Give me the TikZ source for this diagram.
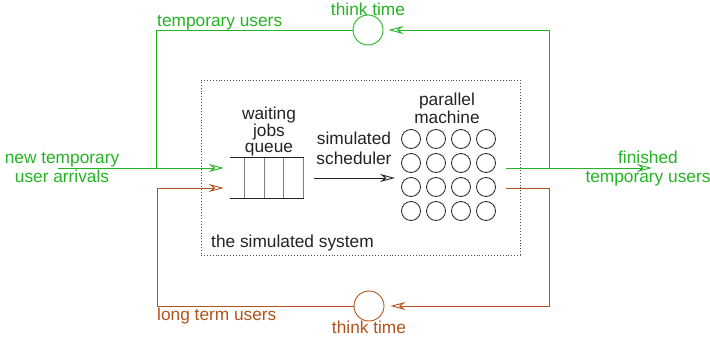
\documentclass[tikz,border=0pt]{standalone}
\usepackage{fontspec}
\setmainfont{Liberation Sans}
\usetikzlibrary{arrows.meta}
\definecolor{tempgreen}{RGB}{34,180,34}
\definecolor{longbrown}{RGB}{178,82,28}
\definecolor{ink}{RGB}{35,35,35}
\begin{document}
\begin{tikzpicture}[x=1pt,y=-1pt,
  every node/.style={font=\fontsize{17.3}{19}\selectfont, inner sep=0pt, text=ink},
  flow/.style={line width=0.9pt},
  head/.style={-{Stealth[open,length=15pt,width=8pt,inset=5pt]}},
  thinker/.style={circle, draw, minimum size=30pt, line width=0.9pt},
  cpu/.style={circle, draw=ink, minimum size=19pt, line width=0.8pt},
  tight/.style={align=center, font=\fontsize{17.3}{15.5}\selectfont}]
\useasboundingbox (0,0) rectangle (710,340);

% simulated system frame
\node[draw=black!70, dotted, line width=0.9pt, minimum width=319pt, minimum height=175pt] (system) at (360.5,167.5) {};
\node[anchor=base west] (syslabel) at (211,247) {the simulated system};

% waiting jobs queue
\node[minimum width=74pt, minimum height=40pt] (queue) at (267,178) {};
\draw[ink, line width=0.9pt] (queue.north west) -- (queue.north east)
      (queue.south west) -- (queue.south east);
\foreach \dx in {15,35,54,74}
  \draw[gray, line width=1pt] ([xshift=\dx pt]queue.north west) -- ([xshift=\dx pt]queue.south west);
\node[tight, anchor=base] (qlabel) at (269,152) {waiting\\jobs\\queue};

% scheduler
\node[align=center, font=\fontsize{17.3}{20}\selectfont, anchor=base] (sched) at (354,164) {simulated\\scheduler};
\coordinate (schedin) at (314,178);
\coordinate (schedout) at (395,178);
\draw[flow, ink, -{Stealth[open,fill=white,length=15pt,width=8pt,inset=5pt]}] (schedin) -- (schedout);

% parallel machine
\foreach \r in {1,...,4}
  \foreach \c in {1,...,4}
    \node[cpu] (m\r\c) at ({386+25*\c},{115+24*\r}) {};
\node[tight, anchor=base] (mlabel) at (447,123) {parallel\\machine};

% think time stations
\node[thinker, draw=tempgreen] (thinkT) at (368,30) {};
\node[thinker, draw=longbrown] (thinkL) at (369,306) {};
\node[anchor=base, text=tempgreen] (thinkTlabel) at (368,16) {think time};
\node[anchor=base, text=longbrown] (thinkLlabel) at (369,333) {think time};

% temporary users
\coordinate (arrive) at (58,168);
\coordinate (joinT) at (156,168);
\coordinate (outT) at (506,168);
\coordinate (splitT) at (549,168);
\coordinate (exitT) at (652,168);
\draw[flow, tempgreen, head, shorten >=6pt] (arrive) -- (queue.west |- arrive);
\draw[flow, tempgreen] (thinkT.west) -| (joinT);
\draw[flow, tempgreen, head] (outT) -- (exitT);
\draw[flow, tempgreen, head, shorten >=5pt] (splitT) |- (thinkT.east);
\node[anchor=base west, text=tempgreen] (tlabel) at (157,26) {temporary users};
\node[align=center, anchor=base, text=tempgreen] (arrlabel) at (62,182) {new temporary\\user arrivals};
\node[align=center, anchor=base, text=tempgreen] (finlabel) at (648,182) {finished\\temporary users};

% long term users
\coordinate (outL) at (506,188);
\coordinate (turnL) at (549,188);
\coordinate (loopL) at (157,188);
\draw[flow, longbrown, head, shorten >=6pt] (outL) -- (turnL) |- (thinkL.east);
\draw[flow, longbrown, head, shorten >=6pt] (thinkL.west) -| (loopL) -- (queue.west |- loopL);
\node[anchor=base west, text=longbrown] (llabel) at (157,320) {long term users};
\end{tikzpicture}
\end{document}
